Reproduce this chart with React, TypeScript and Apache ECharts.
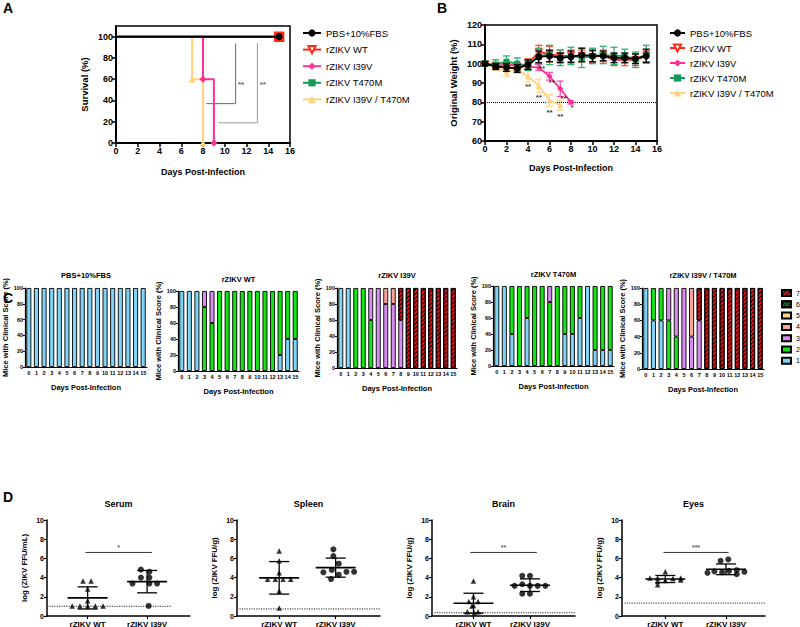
import React, { useEffect, useRef } from 'react';
import * as echarts from 'echarts';

const FONT = '"Liberation Sans", Arial, Helvetica, sans-serif';

// ---------------- Panels A & B : groups
const groupNames = ['PBS+10%FBS', 'rZIKV WT', 'rZIKV I39V', 'rZIKV T470M', 'rZIKV I39V / T470M'];
const groupColors = ['#000000', '#FF2B14', '#FF2E93', '#139A55', '#FFD27F'];
const errColors = ['#000000', '#FF4A30', '#FF4FA8', '#2DB36E', '#FFD890'];
const groupSymbols = ['circle', 'triangle', 'diamond', 'rect', 'triangle'];

// Survival (A)
const survDaysPBS = [0, 15];
const survPBS = [100, 100];
const survDaysWT = [0, 15];
const survWT = [100, 100];
const survDaysI39V = [0, 8, 9];
const survI39V = [100, 60, 0];
const survDaysT470M = [0, 15];
const survT470M = [100, 100];
const survDaysDbl = [0, 7, 8];
const survDbl = [100, 60, 0];
const survBracket1X = [8.3, 11, 11];
const survBracket1Y = [37, 37, 93.5];
const survBracket2X = [9.4, 13, 13];
const survBracket2Y = [19, 19, 94];
const survSigX = [11.5, 13.5];
const survSigY = [55, 55];
const survSigText = ['**', '**'];

// Weight (B)
const wDays = [0, 1, 2, 3, 4, 5, 6, 7, 8, 9, 10, 11, 12, 13, 14, 15];
const wPBS = [100, 98.5, 98, 97.5, 99.5, 103.5, 104, 103, 103.5, 104.5, 104, 104, 103, 103, 102.5, 104];
const wPBSsd = [1, 1.5, 2, 2, 2.5, 3, 3, 2.5, 3, 3.5, 3, 2.5, 2.5, 2.5, 2.5, 3.5];
const wWT = [100, 99, 98, 98, 100, 106, 105, 104, 104, 104, 103.5, 104, 102, 102, 102, 104];
const wWTsd = [1, 1.5, 2, 2, 2.5, 3.5, 4, 3, 3, 3, 3, 3, 3, 3, 3, 3];
const wDaysI39V = [0, 1, 2, 3, 4, 5, 6, 7, 8];
const wI39V = [100, 99, 99.5, 99, 98.5, 98, 93.5, 87, 80];
const wI39Vsd = [0.5, 1, 1.5, 1.5, 1.5, 1.5, 2, 4, 0.8];
const wT470M = [100, 99.5, 101, 100, 99, 104, 104.5, 103, 104, 103, 104, 104.5, 104, 104, 102, 105];
const wT470Msd = [1.5, 2.5, 3, 3, 2.5, 4, 5, 4, 4.5, 5, 4, 4.5, 4.5, 3.5, 4, 4.5];
const wDaysDbl = [0, 1, 2, 3, 4, 5, 6, 7];
const wDbl = [100, 98, 96, 97, 93.5, 88.5, 81, 78.5];
const wDblsd = [0.5, 1.5, 2.5, 2, 3, 3.5, 3, 2.5];
const wSigDblX = [4, 5, 6, 7];
const wSigDblY = [88, 82.5, 74.5, 72.5];
const wSigDblText = ['**', '**', '**', '**'];
const wSigI39VX = [5.3, 6.2, 7.3, 8.1];
const wSigI39VY = [97.5, 90.5, 82, 77.5];
const wSigI39VText = ['**', '**', '**', '*'];
const weightLimit = 80;

// ---------------- Panel C : clinical scores (% of mice), rows = score 1..7
const cDays = ['0', '1', '2', '3', '4', '5', '6', '7', '8', '9', '10', '11', '12', '13', '14', '15'];
const cTitles = ['PBS+10%FBS', 'rZIKV WT', 'rZIKV I39V', 'rZIKV T470M', 'rZIKV I39V / T470M'];
const scoreNames = ['1', '2', '3', '4', '5', '6', '7'];
const scoreColors = ['#7FD3F4', '#14E414', '#D98CEF', '#F7A59B', '#FFD98C', '#1B7A1B', '#E8121B'];
const Z16 = [0, 0, 0, 0, 0, 0, 0, 0, 0, 0, 0, 0, 0, 0, 0, 0];
const clinPBS = [
  [100, 100, 100, 100, 100, 100, 100, 100, 100, 100, 100, 100, 100, 100, 100, 100],
  Z16, Z16, Z16, Z16, Z16, Z16,
];
const clinWT = [
  [100, 100, 100, 0, 0, 0, 0, 0, 0, 0, 0, 0, 0, 20, 40, 40],
  [0, 0, 0, 80, 60, 100, 100, 100, 100, 100, 100, 100, 100, 80, 60, 60],
  [0, 0, 0, 20, 40, 0, 0, 0, 0, 0, 0, 0, 0, 0, 0, 0],
  Z16, Z16, Z16, Z16,
];
const clinI39V = [
  [100, 100, 0, 0, 0, 0, 0, 0, 0, 0, 0, 0, 0, 0, 0, 0],
  [0, 0, 100, 100, 60, 0, 0, 0, 0, 0, 0, 0, 0, 0, 0, 0],
  [0, 0, 0, 0, 40, 100, 80, 80, 60, 0, 0, 0, 0, 0, 0, 0],
  [0, 0, 0, 0, 0, 0, 20, 20, 0, 0, 0, 0, 0, 0, 0, 0],
  Z16, Z16,
  [0, 0, 0, 0, 0, 0, 0, 0, 40, 100, 100, 100, 100, 100, 100, 100],
];
const clinT470M = [
  [100, 100, 40, 0, 60, 0, 0, 0, 0, 40, 40, 60, 100, 20, 20, 20],
  [0, 0, 60, 100, 40, 100, 100, 80, 100, 60, 60, 40, 0, 80, 80, 80],
  [0, 0, 0, 0, 0, 0, 0, 20, 0, 0, 0, 0, 0, 0, 0, 0],
  Z16, Z16, Z16, Z16,
];
const clinDbl = [
  [100, 60, 60, 0, 0, 0, 0, 0, 0, 0, 0, 0, 0, 0, 0, 0],
  [0, 40, 40, 60, 40, 0, 0, 0, 0, 0, 0, 0, 0, 0, 0, 0],
  [0, 0, 0, 40, 60, 100, 40, 60, 0, 0, 0, 0, 0, 0, 0, 0],
  [0, 0, 0, 0, 0, 0, 60, 0, 0, 0, 0, 0, 0, 0, 0, 0],
  Z16, Z16,
  [0, 0, 0, 0, 0, 0, 0, 40, 100, 100, 100, 100, 100, 100, 100, 100],
];

// ---------------- Panel D : viral titers
const dTitles = ['Serum', 'Spleen', 'Brain', 'Eyes'];
const dYNames = ['log (ZIKV FFU/mL)', 'log (ZIKV FFU/g)', 'log (ZIKV FFU/g)', 'log (ZIKV FFU/g)'];
const dCats = ['rZIKV WT', 'rZIKV I39V'];
const serumWT = [3.65, 3.65, 2.8, 1.6, 1.05, 1.05, 1.05, 1.05, 1.05];
const serumWTjit = [-0.6, 0.45, 0, 0, -2, -1, 0, 1, 2];
const serumI39V = [4.84, 4.6, 4.0, 4.0, 3.38, 3.38, 3.38, 1.05];
const serumI39Vjit = [-0.8, 0.3, -0.8, 0.3, -1.9, 0.3, 1.3, 0.2];
const spleenWT = [6.76, 5.75, 4.5, 3.83, 3.83, 3.83, 3.83, 2.6, 0.84];
const spleenWTjit = [0, 0, 0, -1.5, -0.5, 0.5, 1.5, 0, 0];
const spleenI39V = [6.95, 6.25, 5.45, 4.55, 4.8, 4.6, 4.6, 4.3, 3.85];
const spleenI39Vjit = [-0.3, -0.3, 0.4, -1.6, -0.5, 1.4, 2.4, 0.4, -0.6];
const brainWT = [3.65, 2.0, 1.5, 1.5, 1.1, 1.05, 0.45, 0.45, 0.3];
const brainWTjit = [0, 0, -0.6, 0.6, 0, -0.2, -0.8, 0.6, 0.1];
const brainI39V = [4.18, 4.18, 3.31, 3.14, 3.14, 3.14, 3.14, 2.33, 2.33];
const brainI39Vjit = [-1, 0, -1, -2, 0, 1, 2, -1, 0];
const eyesWT = [4.62, 3.95, 3.95, 3.9, 3.95, 3.7, 3.6, 3.25, 3.75];
const eyesWTjit = [0, -2, -1, 1, 2, 0, -1, -1, 2];
const eyesI39V = [5.75, 5.89, 4.5, 4.65, 4.55, 4.7, 4.77, 4.6, 4.35];
const eyesI39Vjit = [-0.7, 0.3, -2.4, -1.5, -0.5, 0.4, 1.4, 2.4, 1.4];
const dLOD = [1.0, 0.75, 0.35, 1.35];
const dLODEnd = [0.874, 1, 1, 1];
const dSigFrom = [0.268, null, 0.267, 0.29];
const dSigTo = [0.734, null, 0.733, 0.745];
const dSigY = [6.62, null, 6.62, 6.62];
const dSigText = ['*', '', '**', '***'];

// ---------------- layout
const cGrids = [
  { left: 25, top: 288, width: 122, height: 79 },
  { left: 178, top: 291, width: 121, height: 80 },
  { left: 337, top: 288, width: 120, height: 80 },
  { left: 493, top: 286, width: 121, height: 80 },
  { left: 642, top: 288, width: 122, height: 81 },
];
const cTitleY = [275, 279, 275, 274, 275];
const dGrids = [
  { left: 47, top: 520, width: 143, height: 96 },
  { left: 237, top: 520, width: 143, height: 96 },
  { left: 432, top: 520, width: 143, height: 96 },
  { left: 622, top: 520, width: 143, height: 96 },
];
const dCenters = [[0.284, 0.7], [0.295, 0.69], [0.29, 0.685], [0.303, 0.727]];

const bold = (size: number) => ({ fontSize: size, fontWeight: 'bold', color: '#000', fontFamily: FONT });

function mean(a: number[]) { return a.reduce((s, v) => s + v, 0) / a.length; }
function sd(a: number[]) { const m = mean(a); return Math.sqrt(a.reduce((s, v) => s + (v - m) * (v - m), 0) / (a.length - 1)); }

function buildOption() {
  const grid: any[] = [];
  const xAxis: any[] = [];
  const yAxis: any[] = [];
  const series: any[] = [];
  const graphic: any[] = [];

  // ---------- A
  grid.push({ left: 116, top: 26, width: 174, height: 117, show: true, borderColor: '#000', borderWidth: 1.5, outerBoundsMode: 'none' });
  xAxis.push({
    gridIndex: 0, type: 'value', min: 0, max: 16, interval: 2,
    axisLine: { lineStyle: { color: '#000', width: 2 } }, axisTick: { length: 4, lineStyle: { color: '#000', width: 1.5 } },
    axisLabel: { ...bold(9), margin: 3 }, splitLine: { show: false },
    name: 'Days Post-Infection', nameLocation: 'middle', nameGap: 24, nameTextStyle: bold(9),
  });
  yAxis.push({
    gridIndex: 0, type: 'value', min: 0, max: 110, interval: 20,
    axisLine: { show: true, lineStyle: { color: '#000', width: 2 } }, axisTick: { show: true, length: 4, lineStyle: { color: '#000', width: 1.5 } },
    axisLabel: { ...bold(9), margin: 3, showMaxLabel: false }, splitLine: { show: false },
    name: 'Survival (%)', nameLocation: 'middle', nameGap: 27, nameTextStyle: bold(9.5),
  });
  const survDays = [survDaysPBS, survDaysWT, survDaysI39V, survDaysT470M, survDaysDbl];
  const survVals = [survPBS, survWT, survI39V, survT470M, survDbl];
  const survZ = [6, 5, 3, 4, 3];
  for (let g = 0; g < 5; g++) {
    const open = g === 1;
    series.push({
      name: groupNames[g], type: 'line', xAxisIndex: 0, yAxisIndex: 0, step: 'end', z: survZ[g],
      data: survDays[g].map((d, i) => (i === 0
        ? { value: [d, survVals[g][i]], symbol: 'none' }
        : open
          ? { value: [d, survVals[g][i]], symbol: 'rect', symbolRotate: 0, itemStyle: { color: groupColors[g] } }
          : { value: [d, survVals[g][i]] })),
      symbol: groupSymbols[g], symbolSize: g === 1 ? 9 : 7, symbolRotate: open ? 180 : 0,
      lineStyle: { color: groupColors[g], width: 2 },
      itemStyle: open ? { color: '#fff', borderColor: groupColors[g], borderWidth: 1.5 } : { color: groupColors[g] },
      emphasis: { disabled: true },
    });
  }
  [[survBracket1X, survBracket1Y], [survBracket2X, survBracket2Y]].forEach(([bx, by], k) => {
    series.push({
      type: 'line', xAxisIndex: 0, yAxisIndex: 0, symbol: 'none', z: 1,
      data: bx.map((x, i) => [x, by[i]]), lineStyle: { color: k === 0 ? '#666' : '#999', width: 1 }, silent: true,
    });
  });
  series.push({
    type: 'scatter', xAxisIndex: 0, yAxisIndex: 0, symbolSize: 0, silent: true,
    data: survSigX.map((x, i) => [x, survSigY[i], survSigText[i]]),
    label: { show: true, position: 'inside', formatter: (p: any) => p.value[2], ...bold(8), color: '#333' },
  });

  // ---------- B
  grid.push({ left: 485, top: 25, width: 172, height: 116, show: true, borderColor: '#000', borderWidth: 1.5, outerBoundsMode: 'none' });
  xAxis.push({
    gridIndex: 1, type: 'value', min: 0, max: 16, interval: 2,
    axisLine: { lineStyle: { color: '#000', width: 2 } }, axisTick: { length: 4, lineStyle: { color: '#000', width: 1.5 } },
    axisLabel: { ...bold(9), margin: 3 }, splitLine: { show: false },
    name: 'Days Post-Infection', nameLocation: 'middle', nameGap: 22, nameTextStyle: bold(9),
  });
  yAxis.push({
    gridIndex: 1, type: 'value', min: 60, max: 120, interval: 10,
    axisLine: { show: true, lineStyle: { color: '#000', width: 2 } }, axisTick: { show: true, length: 4, lineStyle: { color: '#000', width: 1.5 } },
    axisLabel: { ...bold(9), margin: 3 }, splitLine: { show: false },
    name: 'Original Weight (%)', nameLocation: 'middle', nameGap: 27, nameTextStyle: bold(9.5),
  });
  const wDaysAll = [wDays, wDays, wDaysI39V, wDays, wDaysDbl];
  const wVals = [wPBS, wWT, wI39V, wT470M, wDbl];
  const wSds = [wPBSsd, wWTsd, wI39Vsd, wT470Msd, wDblsd];
  const wZ = [8, 6, 5, 7, 5];
  for (let g = 0; g < 5; g++) {
    const col = errColors[g];
    series.push({
      type: 'custom', xAxisIndex: 1, yAxisIndex: 1, z: wZ[g] - 0.5, silent: true,
      data: wDaysAll[g].map((d, i) => [d, wVals[g][i] - wSds[g][i], wVals[g][i] + wSds[g][i]]),
      encode: { x: 0, y: [1, 2] },
      renderItem: (params: any, api: any) => {
        const x = api.value(0);
        const hi = api.coord([x, api.value(2)]);
        const lo = api.coord([x, api.value(1)]);
        const w = 3.5;
        const st = { stroke: col, lineWidth: 1.3 };
        return {
          type: 'group', children: [
            { type: 'line', shape: { x1: hi[0], y1: hi[1], x2: lo[0], y2: lo[1] }, style: st },
            { type: 'line', shape: { x1: hi[0] - w, y1: hi[1], x2: hi[0] + w, y2: hi[1] }, style: st },
            { type: 'line', shape: { x1: lo[0] - w, y1: lo[1], x2: lo[0] + w, y2: lo[1] }, style: st },
          ],
        };
      },
    });
    const open = g === 1;
    series.push({
      name: groupNames[g], type: 'line', xAxisIndex: 1, yAxisIndex: 1, z: wZ[g],
      data: wDaysAll[g].map((d, i) => [d, wVals[g][i]]),
      symbol: groupSymbols[g], symbolSize: g === 0 ? 7 : 6, symbolRotate: open ? 180 : 0,
      lineStyle: { color: groupColors[g], width: 1.8 },
      itemStyle: open ? { color: '#fff', borderColor: groupColors[g], borderWidth: 1.5 } : { color: groupColors[g] },
      emphasis: { disabled: true },
      markLine: g === 0 ? {
        silent: true, symbol: 'none', label: { show: false },
        lineStyle: { type: 'dotted', color: '#000', width: 1 }, data: [{ yAxis: weightLimit }],
      } : undefined,
    });
  }
  [[wSigDblX, wSigDblY, wSigDblText], [wSigI39VX, wSigI39VY, wSigI39VText]].forEach(([sx, sy, st]: any) => {
    series.push({
      type: 'scatter', xAxisIndex: 1, yAxisIndex: 1, symbolSize: 0, silent: true, z: 10,
      data: sx.map((x: number, i: number) => [x, sy[i], st[i]]),
      label: { show: true, position: 'inside', formatter: (p: any) => p.value[2], ...bold(8) },
    });
  });

  // ---------- C
  const clin = [clinPBS, clinWT, clinI39V, clinT470M, clinDbl];
  const decals: any[] = [null, null, null, null, null,
    { symbol: 'rect', symbolSize: 1, color: 'rgba(0,0,0,0.85)', dashArrayX: [1, 0], dashArrayY: [1, 2], rotation: Math.PI / 4 },
    { symbol: 'rect', symbolSize: 1, color: 'rgba(0,0,0,0.9)', dashArrayX: [1, 0], dashArrayY: [1, 2], rotation: -Math.PI / 4 }];
  for (let p = 0; p < 5; p++) {
    const gi = grid.length;
    grid.push({ ...cGrids[p], outerBoundsMode: 'none' });
    xAxis.push({
      gridIndex: gi, type: 'category', data: cDays,
      axisLine: { lineStyle: { color: '#000', width: 1.2 } }, axisTick: { alignWithLabel: true, length: 2, lineStyle: { color: '#000' } },
      axisLabel: { ...bold(5.5), interval: 0, margin: 3 },
      name: 'Days Post-Infection', nameLocation: 'middle', nameGap: 16, nameTextStyle: bold(7.5),
    });
    yAxis.push({
      gridIndex: gi, type: 'value', min: 0, max: 100, interval: 20,
      axisLine: { show: true, lineStyle: { color: '#000', width: 1.2 } }, axisTick: { show: true, length: 2, lineStyle: { color: '#000' } },
      axisLabel: { ...bold(5.5), margin: 2 }, splitLine: { show: false },
      name: 'Mice with Clinical Score (%)', nameLocation: 'middle', nameGap: 15, nameTextStyle: bold(7.5),
    });
    for (let s = 0; s < 7; s++) {
      series.push({
        name: scoreNames[s], type: 'bar', xAxisIndex: gi, yAxisIndex: gi, stack: 'clin' + p,
        barWidth: '66%', silent: true,
        data: clin[p][s].map((v) => (v === 0 ? '-' : v)),
        itemStyle: { color: scoreColors[s], borderColor: '#000', borderWidth: 0.9, decal: decals[s] || undefined },
      });
    }
    graphic.push({
      type: 'text', x: cGrids[p].left + cGrids[p].width / 2, y: cTitleY[p],
      style: { text: cTitles[p], fill: '#000', font: `bold 7.5px ${FONT}`, textAlign: 'center', textVerticalAlign: 'middle' },
    });
  }

  // ---------- D
  const dWT = [serumWT, spleenWT, brainWT, eyesWT];
  const dWTj = [serumWTjit, spleenWTjit, brainWTjit, eyesWTjit];
  const dI = [serumI39V, spleenI39V, brainI39V, eyesI39V];
  const dIj = [serumI39Vjit, spleenI39Vjit, brainI39Vjit, eyesI39Vjit];
  for (let p = 0; p < 4; p++) {
    const gi = grid.length;
    const g = dGrids[p];
    const slot = 7.7 / g.width;
    const c = dCenters[p];
    grid.push({ ...g, outerBoundsMode: 'none' });
    xAxis.push({
      gridIndex: gi, type: 'value', min: 0, max: 1,
      axisLine: { lineStyle: { color: '#000', width: 1.5 } },
      axisTick: { customValues: c, length: 3, lineStyle: { color: '#000', width: 1.2 } },
      axisLabel: { customValues: c, ...bold(8), margin: 4, formatter: (v: number) => (Math.abs(v - c[0]) < 1e-6 ? dCats[0] : dCats[1]) },
      splitLine: { show: false },
    });
    yAxis.push({
      gridIndex: gi, type: 'value', min: 0, max: 10, interval: 2,
      axisLine: { show: true, lineStyle: { color: '#000', width: 1.5 } }, axisTick: { show: true, length: 3, lineStyle: { color: '#000', width: 1.2 } },
      axisLabel: { ...bold(7), margin: 3 }, splitLine: { show: false },
      name: dYNames[p], nameLocation: 'middle', nameGap: 19, nameTextStyle: bold(7.8),
    });
    series.push({
      type: 'line', xAxisIndex: gi, yAxisIndex: gi, symbol: 'none', silent: true, z: 1,
      data: [[0, dLOD[p]], [dLODEnd[p], dLOD[p]]], lineStyle: { type: 'dotted', color: '#555', width: 1.2 },
    });
    const stats = [[c[0], mean(dWT[p]), sd(dWT[p])], [c[1], mean(dI[p]), sd(dI[p])]];
    series.push({
      type: 'custom', xAxisIndex: gi, yAxisIndex: gi, silent: true, z: 3,
      data: stats, encode: { x: 0, y: 1 },
      renderItem: (params: any, api: any) => {
        const x = api.value(0), m = api.value(1), s = api.value(2);
        const pm = api.coord([x, m]);
        const ph = api.coord([x, m + s]);
        const pl = api.coord([x, Math.max(0, m - s)]);
        const st = { stroke: '#000', lineWidth: 1.3 };
        return {
          type: 'group', children: [
            { type: 'line', shape: { x1: pm[0] - 20, y1: pm[1], x2: pm[0] + 20, y2: pm[1] }, style: { stroke: '#000', lineWidth: 1.6 } },
            { type: 'line', shape: { x1: ph[0], y1: ph[1], x2: pl[0], y2: pl[1] }, style: st },
            { type: 'line', shape: { x1: ph[0] - 10, y1: ph[1], x2: ph[0] + 10, y2: ph[1] }, style: st },
            { type: 'line', shape: { x1: pl[0] - 10, y1: pl[1], x2: pl[0] + 10, y2: pl[1] }, style: st },
          ],
        };
      },
    });
    series.push({
      type: 'scatter', xAxisIndex: gi, yAxisIndex: gi, silent: true, z: 4, symbol: 'triangle', symbolSize: 5.5,
      itemStyle: { color: '#000' },
      data: dWT[p].map((v, i) => [c[0] + dWTj[p][i] * slot, v]),
    });
    series.push({
      type: 'scatter', xAxisIndex: gi, yAxisIndex: gi, silent: true, z: 4, symbol: 'circle', symbolSize: 6,
      itemStyle: { color: '#000' },
      data: dI[p].map((v, i) => [c[1] + dIj[p][i] * slot, v]),
    });
    if (dSigFrom[p] !== null) {
      series.push({
        type: 'line', xAxisIndex: gi, yAxisIndex: gi, symbol: 'none', silent: true,
        data: [[dSigFrom[p], dSigY[p]], [dSigTo[p], dSigY[p]]], lineStyle: { color: '#333', width: 1 },
      });
      series.push({
        type: 'scatter', xAxisIndex: gi, yAxisIndex: gi, symbolSize: 0, silent: true,
        data: [[((dSigFrom[p] as number) + (dSigTo[p] as number)) / 2, (dSigY[p] as number) + 0.55, dSigText[p]]],
        label: { show: true, position: 'inside', formatter: (q: any) => q.value[2], ...bold(7), color: '#333' },
      });
    }
    graphic.push({
      type: 'text', x: g.left + g.width / 2, y: 504,
      style: { text: dTitles[p], font: `bold 9px ${FONT}`, fill: '#000', textAlign: 'center', textVerticalAlign: 'middle' },
    });
  }

  const letters: [string, number, number][] = [['A', 3, 1], ['B', 437, 1], ['C', 3, 291], ['D', 3, 490]];
  letters.forEach(([t, x, y]) => graphic.push({ type: 'text', x, y, style: { text: t, font: `bold 14px ${FONT}`, fill: '#000' } }));

  const legend = [
    {
      data: groupNames, orient: 'vertical', left: 302, top: 27.5, padding: 0, itemWidth: 18, itemHeight: 9, itemGap: 5.6,
      textStyle: { fontSize: 9.5, lineHeight: 11, fontFamily: FONT, color: '#000' }, selectedMode: false,
    },
    {
      data: groupNames, orient: 'vertical', left: 669, top: 27.5, padding: 0, itemWidth: 15, itemHeight: 9, itemGap: 4,
      textStyle: { fontSize: 9.5, lineHeight: 11, fontFamily: FONT, color: '#000' }, selectedMode: false,
    },
    {
      data: ['7', '6', '5', '4', '3', '2', '1'], orient: 'vertical', left: 781, top: 289, padding: 0, itemWidth: 9, itemHeight: 6, itemGap: 3.3,
      icon: 'rect', textStyle: { fontSize: 7, lineHeight: 8, fontFamily: FONT, color: '#000' }, selectedMode: false,
    },
  ];

  return {
    animation: false,
    backgroundColor: '#fff',
    textStyle: { fontFamily: FONT },
    grid, xAxis, yAxis, series, graphic, legend,
  };
}

export default function App() {
  const ref = useRef<HTMLDivElement>(null);
  useEffect(() => {
    const chart = echarts.init(ref.current!, null, { renderer: 'svg' });
    chart.setOption(buildOption() as any);
    return () => chart.dispose();
  }, []);
  return <div ref={ref} style={{ position: 'absolute', left: 0, top: 0, width: 800, height: 627, background: '#fff' }} />;
}
